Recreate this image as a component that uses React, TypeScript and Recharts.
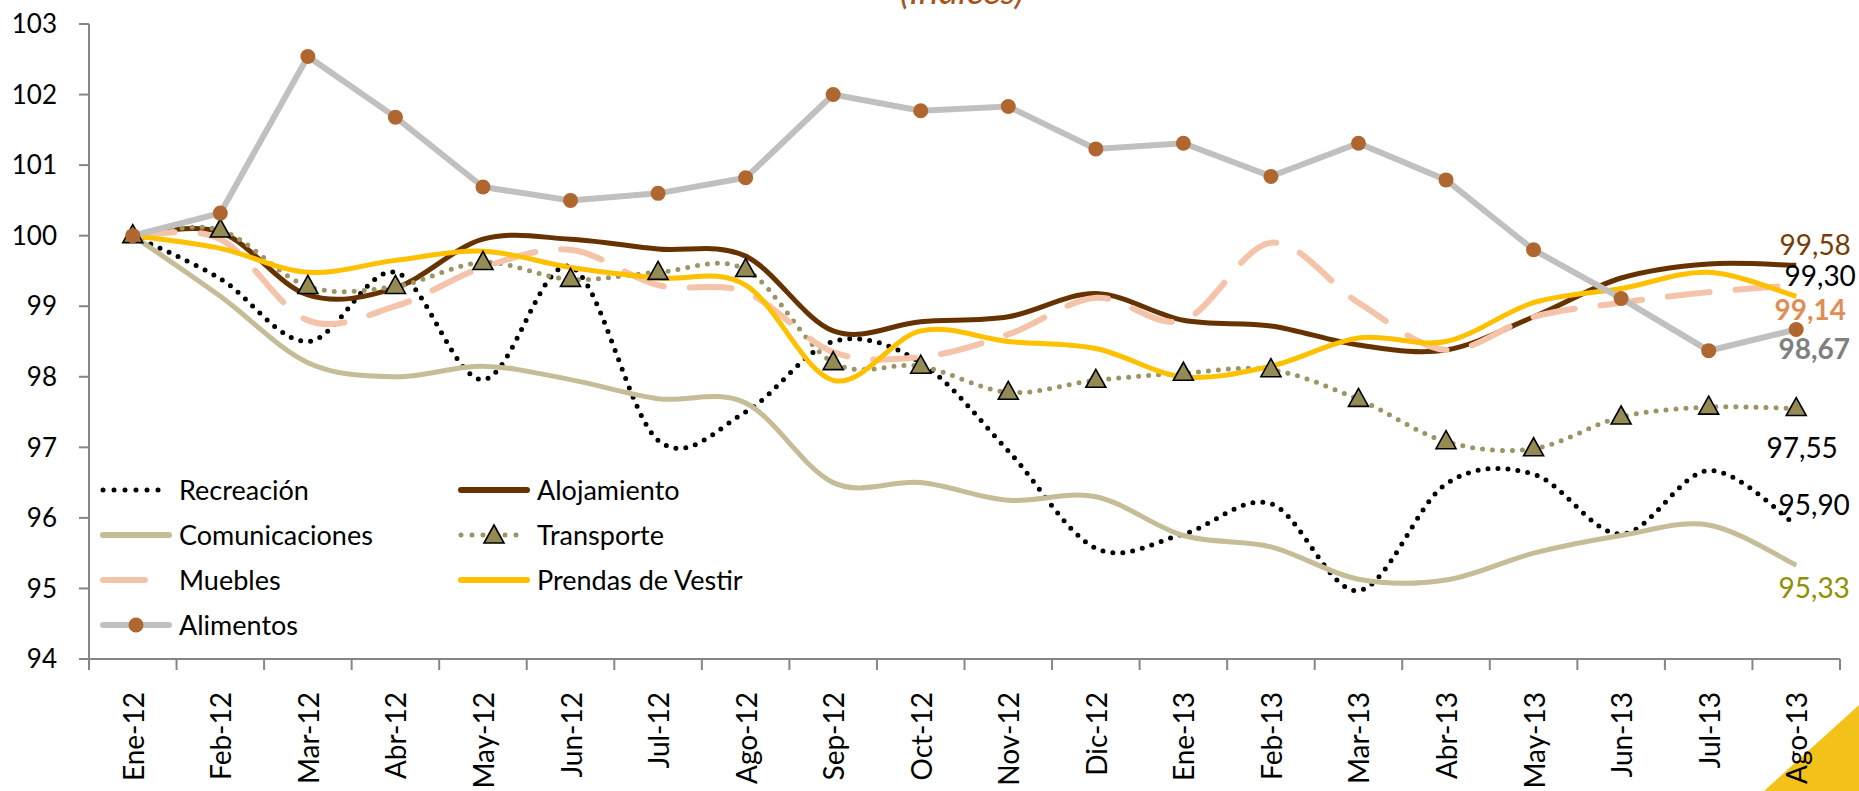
import { LineChart, Line, XAxis, YAxis, LabelList } from 'recharts';

const months = ['Ene-12', 'Feb-12', 'Mar-12', 'Abr-12', 'May-12', 'Jun-12', 'Jul-12', 'Ago-12', 'Sep-12', 'Oct-12',
  'Nov-12', 'Dic-12', 'Ene-13', 'Feb-13', 'Mar-13', 'Abr-13', 'May-13', 'Jun-13', 'Jul-13', 'Ago-13'];

const recreacion = [100, 99.39, 98.5, 99.48, 97.96, 99.56, 97.1, 97.5, 98.5, 98.2, 96.95, 95.57, 95.77, 96.2, 94.97, 96.48, 96.62, 95.77, 96.67, 95.9];
const alojamiento = [100, 100.05, 99.16, 99.26, 99.95, 99.95, 99.81, 99.71, 98.65, 98.78, 98.85, 99.18, 98.8, 98.72, 98.45, 98.38, 98.85, 99.4, 99.6, 99.58];
const comunicaciones = [100, 99.14, 98.2, 98.0, 98.15, 97.96, 97.69, 97.63, 96.5, 96.5, 96.25, 96.3, 95.75, 95.59, 95.13, 95.12, 95.5, 95.75, 95.9, 95.33];
const transporte = [100, 100.08, 99.28, 99.28, 99.62, 99.38, 99.48, 99.52, 98.2, 98.15, 97.78, 97.95, 98.05, 98.1, 97.68, 97.08, 96.98, 97.43, 97.57, 97.55];
const muebles = [100, 99.95, 98.8, 99.0, 99.55, 99.8, 99.3, 99.2, 98.35, 98.28, 98.6, 99.12, 98.8, 99.9, 99.05, 98.38, 98.85, 99.05, 99.2, 99.3];
const prendas = [100, 99.82, 99.48, 99.65, 99.78, 99.55, 99.4, 99.3, 97.95, 98.65, 98.5, 98.4, 98.0, 98.15, 98.55, 98.5, 99.05, 99.25, 99.48, 99.14];
const alimentos = [100, 100.32, 102.54, 101.68, 100.69, 100.5, 100.6, 100.82, 102.0, 101.77, 101.83, 101.23, 101.31, 100.84, 101.31, 100.79, 99.8, 99.11, 98.37, 98.67];

const yTicks = [94, 95, 96, 97, 98, 99, 100, 101, 102, 103];

const data = months.map((m, i) => ({
  month: m,
  recreacion: recreacion[i],
  alojamiento: alojamiento[i],
  comunicaciones: comunicaciones[i],
  transporte: transporte[i],
  muebles: muebles[i],
  prendas: prendas[i],
  alimentos: alimentos[i],
}));

const W = 1859;
const H = 791;
const X_AXIS_H = 132;
const Y_AXIS_W = 89;
const M = { top: 24, right: 19, left: 0, bottom: 0 };
const PLOT_W = W - M.right - Y_AXIS_W;
const BAND = PLOT_W / months.length;
const AXIS = '#868686';
const FONT = 'Lato, sans-serif';

// excel-like smoothed line (catmull-rom through every point)
function excelSmooth(context: any) {
  let pts: number[][] = [];
  return {
    areaStart() {},
    areaEnd() {},
    lineStart() { pts = []; },
    point(x: number, y: number) { pts.push([+x, +y]); },
    lineEnd() {
      if (!pts.length) return;
      context.moveTo(pts[0][0], pts[0][1]);
      for (let i = 0; i < pts.length - 1; i++) {
        const p0 = pts[i - 1] || pts[i];
        const p1 = pts[i];
        const p2 = pts[i + 1];
        const p3 = pts[i + 2] || p2;
        context.bezierCurveTo(
          p1[0] + (p2[0] - p0[0]) / 6, p1[1] + (p2[1] - p0[1]) / 6,
          p2[0] - (p3[0] - p1[0]) / 6, p2[1] - (p3[1] - p1[1]) / 6,
          p2[0], p2[1]
        );
      }
    },
  };
}

const XTick = (props: any) => {
  const { x, y, payload, index } = props;
  const ly = y + 33;
  return (
    <g>
      <line x1={x - BAND / 2} x2={x - BAND / 2} y1={y} y2={y + 11} stroke={AXIS} strokeWidth={2} />
      {index === months.length - 1 && (
        <line x1={x + BAND / 2} x2={x + BAND / 2} y1={y} y2={y + 11} stroke={AXIS} strokeWidth={2} />
      )}
      <text x={x} y={ly} transform={`rotate(-90, ${x}, ${ly})`} textAnchor="end" dominantBaseline="central"
        fontFamily={FONT} fontSize={28} fill="#000">
        {payload.value}
      </text>
    </g>
  );
};

const Triangle = (props: any) => {
  const { cx, cy } = props;
  if (cx == null || cy == null) return null;
  return <path d={`M${cx},${cy - 11} L${cx + 10},${cy + 7} L${cx - 10},${cy + 7} Z`} fill="#948a54" stroke="#000" strokeWidth={1.6} />;
};

const endLabel = (dx: number, dy: number, color: string, bold: boolean) => (props: any) => {
  const { x, y, value, index } = props;
  if (index !== months.length - 1) return null;
  return (
    <text x={x + dx} y={y + dy} textAnchor="middle" dominantBaseline="central" fontFamily={FONT}
      fontSize={28} fontWeight={bold ? 700 : 400} fill={color}>
      {Number(value).toFixed(2).replace('.', ',')}
    </text>
  );
};

const legendItems = [
  { name: 'Recreación', icon: 'recreacion' },
  { name: 'Alojamiento', icon: 'alojamiento' },
  { name: 'Comunicaciones', icon: 'comunicaciones' },
  { name: 'Transporte', icon: 'transporte' },
  { name: 'Muebles', icon: 'muebles' },
  { name: 'Prendas de Vestir', icon: 'prendas' },
  { name: 'Alimentos', icon: 'alimentos' },
];

const LegendIcon = ({ kind }: { kind: string }) => {
  const w = 72;
  const c = 12;
  let body;
  if (kind === 'recreacion') body = <line x1={3} x2={w - 3} y1={c} y2={c} stroke="#000" strokeWidth={5} strokeDasharray="0 11" strokeLinecap="round" />;
  else if (kind === 'alojamiento') body = <line x1={3} x2={w - 3} y1={c} y2={c} stroke="#663300" strokeWidth={6} strokeLinecap="round" />;
  else if (kind === 'comunicaciones') body = <line x1={3} x2={w - 3} y1={c} y2={c} stroke="#c4bd97" strokeWidth={6} strokeLinecap="round" />;
  else if (kind === 'prendas') body = <line x1={3} x2={w - 3} y1={c} y2={c} stroke="#ffc000" strokeWidth={6} strokeLinecap="round" />;
  else if (kind === 'muebles') body = <line x1={3} x2={w - 3} y1={c} y2={c} stroke="#f4c3aa" strokeWidth={6} strokeDasharray="42 26" strokeLinecap="round" />;
  else if (kind === 'transporte') body = (
    <g>
      <line x1={3} x2={w - 3} y1={c} y2={c} stroke="#9c9464" strokeWidth={5} strokeDasharray="0 11" strokeLinecap="round" />
      <Triangle cx={w / 2} cy={c + 1} />
    </g>
  );
  else body = (
    <g>
      <line x1={3} x2={w - 3} y1={c} y2={c} stroke="#c0c0c0" strokeWidth={6} strokeLinecap="round" />
      <circle cx={w / 2} cy={c} r={7.5} fill="#b0672f" />
    </g>
  );
  return <svg width={w} height={24} style={{ display: 'block' }}>{body}</svg>;
};

const LegendBox = () => (
  <div style={{ position: 'absolute', left: 100, top: 467, display: 'grid', gridTemplateColumns: '358px 340px',
    fontFamily: FONT, fontSize: 27, color: '#000', lineHeight: 1 }}>
    {legendItems.map((it) => (
      <div key={it.name} style={{ display: 'flex', alignItems: 'center', height: 45 }}>
        <LegendIcon kind={it.icon} />
        <span style={{ marginLeft: 7, whiteSpace: 'nowrap' }}>{it.name}</span>
      </div>
    ))}
  </div>
);

export default function App() {
  return (
    <div style={{ position: 'absolute', left: 0, top: 0, width: W, height: H, background: '#fff', overflow: 'hidden' }}>
      <svg width={W} height={40} style={{ position: 'absolute', left: 0, top: 0 }}>
        <text x={962} y={4} textAnchor="middle" fontFamily={FONT} fontStyle="italic" fontSize={37} fill="#a5561e">(Índices)</text>
      </svg>
      <svg width={120} height={100} style={{ position: 'absolute', right: 0, bottom: 0 }}>
        <polygon points="25,100 120,14 120,100" fill="#f2c21a" />
      </svg>
      <LineChart width={W} height={H} data={data} margin={M}>
        <XAxis dataKey="month" interval={0} tickLine={false} tickSize={0} tickMargin={0} height={X_AXIS_H}
          padding={{ left: BAND / 2, right: BAND / 2 }}
          axisLine={{ stroke: AXIS, strokeWidth: 2 }} tick={<XTick />} />
        <YAxis domain={[94, 103]} ticks={yTicks} interval={0} width={Y_AXIS_W} tickSize={10} tickMargin={22}
          axisLine={{ stroke: AXIS, strokeWidth: 2 }} tickLine={{ stroke: AXIS, strokeWidth: 2 }}
          tick={{ fontFamily: FONT, fontSize: 26, fill: '#000' }} allowDataOverflow />
        <Line dataKey="recreacion" name="Recreación" type={excelSmooth as any} stroke="#000" strokeWidth={5}
          strokeDasharray="0 10" strokeLinecap="round" dot={false} isAnimationActive={false}>
          <LabelList dataKey="recreacion" content={endLabel(18, -21, '#000', false)} />
        </Line>
        <Line dataKey="alojamiento" name="Alojamiento" type={excelSmooth as any} stroke="#663300" strokeWidth={5}
          dot={false} isAnimationActive={false}>
          <LabelList dataKey="alojamiento" content={endLabel(19, -21, '#7a3d05', false)} />
        </Line>
        <Line dataKey="comunicaciones" name="Comunicaciones" type={excelSmooth as any} stroke="#c4bd97" strokeWidth={5}
          dot={false} isAnimationActive={false}>
          <LabelList dataKey="comunicaciones" content={endLabel(18, 22, '#8f8f00', false)} />
        </Line>
        <Line dataKey="transporte" name="Transporte" type={excelSmooth as any} stroke="#9c9464" strokeWidth={5}
          strokeDasharray="0 10" strokeLinecap="round" dot={<Triangle />} isAnimationActive={false}>
          <LabelList dataKey="transporte" content={endLabel(6, 38, '#000', false)} />
        </Line>
        <Line dataKey="muebles" name="Muebles" type={excelSmooth as any} stroke="#f4c3aa" strokeWidth={6}
          strokeDasharray="42 26" strokeLinecap="round" dot={false} isAnimationActive={false}>
          <LabelList dataKey="muebles" content={endLabel(24, -10, '#000', false)} />
        </Line>
        <Line dataKey="prendas" name="Prendas de Vestir" type={excelSmooth as any} stroke="#ffc000" strokeWidth={5}
          dot={false} isAnimationActive={false}>
          <LabelList dataKey="prendas" content={endLabel(14, 13, '#df8f55', true)} />
        </Line>
        <Line dataKey="alimentos" name="Alimentos" type="linear" stroke="#c0c0c0" strokeWidth={6}
          dot={{ r: 7.5, fill: '#b0672f', stroke: 'none' }} isAnimationActive={false}>
          <LabelList dataKey="alimentos" content={endLabel(18, 18, '#808080', true)} />
        </Line>
      </LineChart>
      <LegendBox />
    </div>
  );
}
